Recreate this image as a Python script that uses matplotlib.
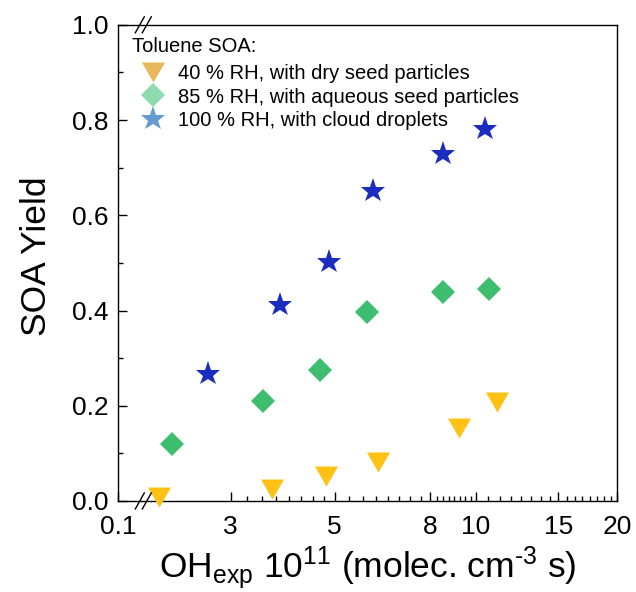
import numpy as np
import matplotlib
matplotlib.use('Agg')
import matplotlib.pyplot as plt
from matplotlib.lines import Line2D

plt.rcParams['font.family'] = ['Liberation Sans', 'DejaVu Sans']
plt.rcParams['mathtext.fontset'] = 'custom'
plt.rcParams['mathtext.rm'] = 'Liberation Sans'
plt.rcParams['mathtext.it'] = 'Liberation Sans'

# ---------------- data ----------------
x_dry = [2.11, 3.68, 4.79, 6.18, 9.21, 11.08]
y_dry = [0.009, 0.025, 0.053, 0.081, 0.154, 0.207]
x_aq = [2.25, 3.51, 4.66, 5.85, 8.53, 10.69]
y_aq = [0.119, 0.210, 0.275, 0.396, 0.438, 0.445]
x_cloud = [2.68, 3.82, 4.87, 6.05, 8.50, 10.46]
y_cloud = [0.266, 0.412, 0.501, 0.652, 0.728, 0.781]

labels = ['40 % RH, with dry seed particles',
          '85 % RH, with aqueous seed particles',
          '100 % RH, with cloud droplets']
legend_title = 'Toluene SOA:'
xticks = [0.1, 3, 5, 8, 10, 15, 20]
xticklabels = ['0.1', '3', '5', '8', '10', '15', '20']
yticks = [0.0, 0.2, 0.4, 0.6, 0.8, 1.0]
yticklabels = ['0.0', '0.2', '0.4', '0.6', '0.8', '1.0']

# ---------------- broken log scale ----------------
X0, BRK = 0.1, 1.955
OFF = 25.0 / 469.0


def fwd(x):
    x = np.asarray(x, dtype=float)
    lin = (x - X0) / (BRK - X0) * OFF
    lg = OFF + np.log10(np.clip(x, 1e-9, None) / BRK)
    return np.where(x < BRK, lin, lg)


def inv(t):
    t = np.asarray(t, dtype=float)
    lin = X0 + t / OFF * (BRK - X0)
    lg = BRK * 10 ** (t - OFF)
    return np.where(t < OFF, lin, lg)


fig = plt.figure(figsize=(6.36, 5.92), dpi=100)
AX_L, AX_R, AX_T, AX_B = 118.3, 617.0, 24.8, 501.0
W, H = AX_R - AX_L, AX_B - AX_T
ax = fig.add_axes([AX_L / 636, 1 - AX_B / 592, W / 636, H / 592])
ax.set_xscale('function', functions=(fwd, inv))
ax.set_xlim(0.1, 20)
ax.set_ylim(0, 1.0)

c_dry, c_aq, c_cloud = '#FFC214', '#3DBE6E', '#1A2DBE'
l_dry, l_aq, l_cloud = '#E8B85A', '#8CDCAF', '#649BD2'
tri = [(-1, 0.866), (1, 0.866), (0, -0.866), (-1, 0.866)]

ax.plot(x_dry, y_dry, ls='none', marker=tri, ms=16.6, color=c_dry, mew=0, clip_on=False, zorder=3)
ax.plot(x_aq, y_aq, ls='none', marker='D', ms=12.7, color=c_aq, mew=0, zorder=3)
ax.plot(x_cloud, y_cloud, ls='none', marker='*', ms=18.5, color=c_cloud, mew=0, zorder=3)

# ticks
ax.set_xticks(xticks)
ax.set_xticklabels(xticklabels)
minors = []
for a, b in zip(xticks[1:-1], xticks[2:]):
    minors.extend(list(np.linspace(a, b, 9)[1:-1]))
ax.set_xticks(minors, minor=True)
ax.set_yticks(yticks)
ax.set_yticklabels(yticklabels)
ax.set_yticks([0.1, 0.3, 0.5, 0.7, 0.9], minor=True)
ax.tick_params(axis='both', which='major', direction='in', length=6.5, width=1.0,
               labelsize=19, top=False, right=False)
ax.tick_params(axis='both', which='minor', direction='in', length=3.8, width=1.0,
               top=False, right=False)
ax.tick_params(axis='x', which='major', pad=10)
ax.tick_params(axis='y', which='major', pad=7)
for s in ax.spines.values():
    s.set_linewidth(1.0)

ax.set_ylabel('SOA Yield', fontsize=25.5)
ax.yaxis.set_label_coords(-0.130, 0.515)
ax.set_xlabel(r'OH$_{\rm exp}$ 10$^{11}$ (molec. cm$^{\text{-3}}$ s)', fontsize=25.5, labelpad=4)

# break marks
cx = 25.0 / W
for yb in (0.0, 1.0):
    for dxp in (-3.5, 3.5):
        xc = cx + dxp / W
        ax.plot([xc - 4.5 / W, xc + 4.5 / W], [yb - 8 / H, yb + 8 / H],
                transform=ax.transAxes, color='black', lw=1.0, clip_on=False, zorder=5)

# legend
ax.text((131.7 - AX_L) / W, 1 - (52.2 - AX_T) / H, legend_title, transform=ax.transAxes,
        fontsize=14.5, ha='left', va='baseline')
handles = [Line2D([], [], ls='none', marker=tri, ms=16.6, color=l_dry, mew=0),
           Line2D([], [], ls='none', marker='D', ms=12.7, color=l_aq, mew=0),
           Line2D([], [], ls='none', marker='*', ms=18.5, color=l_cloud, mew=0)]
leg = ax.legend(handles, labels, loc='upper left',
                bbox_to_anchor=(0.009, 0.938), frameon=False, fontsize=14.5,
                handlelength=2.0, handletextpad=0.25, labelspacing=0.205,
                borderpad=0.2, borderaxespad=0.3)

fig.savefig('out.png', dpi=100)
